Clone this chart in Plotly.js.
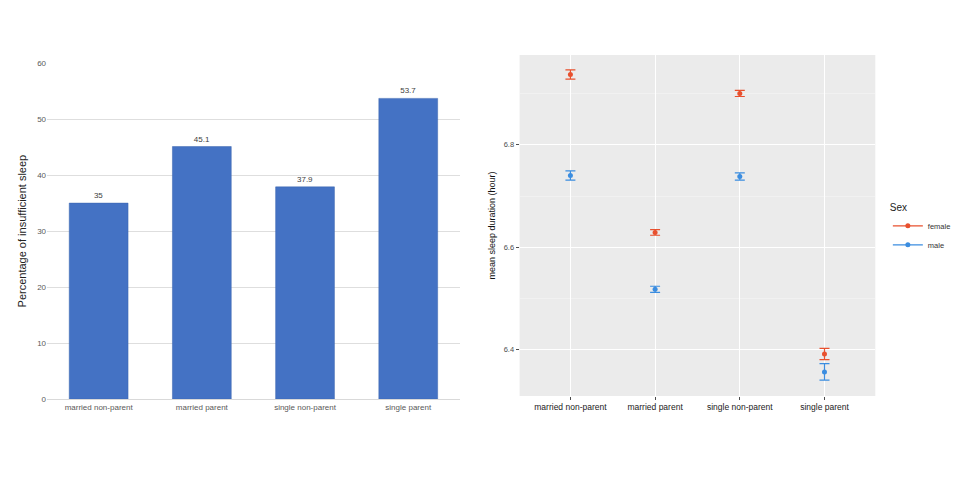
<!DOCTYPE html>
<html>
<head>
<meta charset="utf-8">
<script src="https://cdn.plot.ly/plotly-3.0.1.min.js"></script>
<style>
  html, body { margin: 0; padding: 0; background: #fff; }
  #chart { width: 964px; height: 478px; }
</style>
</head>
<body>
<div id="chart"></div>
<script>
// groups shared by both panels
var groups = ['married non-parent', 'married parent', 'single non-parent', 'single parent']

// left panel: % insufficient sleep
var insufficientPct = [35, 45.1, 37.9, 53.7]
var pctLabels = ['35', '45.1', '37.9', '53.7']

// right panel: mean sleep duration (hour) with error bars, by sex
var femaleMean = [6.937, 6.629, 6.900, 6.392]
var femaleErr  = [0.009, 0.0055, 0.006, 0.011]
var maleMean   = [6.740, 6.518, 6.738, 6.357]
var maleErr    = [0.009, 0.006, 0.007, 0.016]

var femaleColor = '#E8502E'
var maleColor = '#3B8DE0'
var font = 'Liberation Sans, Arial, sans-serif'

var traces = [
    {
        x: groups,
        y: insufficientPct,
        text: pctLabels,
        type: 'bar',
        textposition: 'outside',
        textfont: {family: font, size: 8, color: '#404040'},
        marker: {color: '#4472C4', line: {color: '#3a64ae', width: 0.5}},
        cliponaxis: false,
        hoverinfo: 'x+y',
        showlegend: false,
        xaxis: 'x', yaxis: 'y',
    },
    {
        x: groups,
        y: femaleMean,
        name: 'female',
        type: 'scatter',
        mode: 'markers',
        marker: {color: femaleColor, size: 5},
        error_y: {type: 'data', array: femaleErr, visible: true, color: femaleColor, thickness: 1.2, width: 5},
        showlegend: false,
        xaxis: 'x2', yaxis: 'y2',
    },
    {
        x: groups,
        y: maleMean,
        name: 'male',
        type: 'scatter',
        mode: 'markers',
        marker: {color: maleColor, size: 5},
        error_y: {type: 'data', array: maleErr, visible: true, color: maleColor, thickness: 1.2, width: 5},
        showlegend: false,
        xaxis: 'x2', yaxis: 'y2',
    },
    // legend keys (ggplot style point + line)
    {x: [null], y: [null], name: 'female', type: 'scatter', mode: 'lines+markers',
     marker: {color: femaleColor, size: 5}, line: {color: femaleColor, width: 1.2}, xaxis: 'x2', yaxis: 'y2'},
    {x: [null], y: [null], name: 'male', type: 'scatter', mode: 'lines+markers',
     marker: {color: maleColor, size: 5}, line: {color: maleColor, width: 1.2}, xaxis: 'x2', yaxis: 'y2'},
]

var layout = {
    width: 964,
    height: 478,
    margin: {l: 0, r: 0, t: 0, b: 0},
    paper_bgcolor: '#ffffff',
    font: {family: font, color: '#333'},
    bargap: 0.43,
    xaxis: {
        domain: [0.0488, 0.477],
        type: 'category',
        showgrid: false,
        showline: true,
        linecolor: '#d9d9d9',
        ticks: '',
        tickfont: {family: font, size: 8, color: '#595959'},
        fixedrange: true,
    },
    yaxis: {
        domain: [0.165, 0.868],
        range: [0, 60],
        dtick: 10,
        gridcolor: '#dedede',
        zeroline: false,
        ticks: '',
        tickfont: {family: font, size: 8, color: '#595959'},
        title: {text: 'Percentage of insufficient sleep', font: {family: font, size: 11, color: '#222'}, standoff: 8},
        fixedrange: true,
    },
    xaxis2: {
        domain: [0.539, 0.908],
        anchor: 'y2',
        type: 'category',
        range: [-0.6, 3.6],
        showgrid: true,
        gridcolor: '#ffffff',
        gridwidth: 1.2,
        ticks: 'outside',
        ticklen: 3,
        tickcolor: '#4d4d4d',
        tickfont: {family: font, size: 8.5, color: '#222'},
        fixedrange: true,
    },
    yaxis2: {
        domain: [0.1715, 0.885],
        anchor: 'x2',
        range: [6.310, 6.975],
        tickvals: [6.4, 6.6, 6.8],
        ticktext: ['6.4', '6.6', '6.8'],
        gridcolor: '#ffffff',
        gridwidth: 1.2,
        minor: {tickvals: [6.5, 6.7, 6.9], showgrid: true, gridcolor: '#f5f5f5', gridwidth: 0.6, ticks: ''},
        zeroline: false,
        ticks: 'outside',
        ticklen: 3,
        tickcolor: '#4d4d4d',
        tickfont: {family: font, size: 7.5, color: '#4d4d4d'},
        title: {text: 'mean sleep duration (hour)', font: {family: font, size: 9, color: '#111'}, standoff: 6},
        fixedrange: true,
    },
    plot_bgcolor: '#ffffff',
    shapes: [
        {type: 'rect', xref: 'x2 domain', yref: 'y2 domain', x0: 0, x1: 1, y0: 0, y1: 1,
         fillcolor: '#EBEBEB', line: {width: 0}, layer: 'below'},
    ],
    legend: {
        x: 0.921, y: 0.585, xanchor: 'left', yanchor: 'top',
        title: {text: 'Sex', font: {family: font, size: 10, color: '#222'}},
        font: {family: font, size: 7.5, color: '#333'},
        itemwidth: 30,
        tracegroupgap: 0,
        bgcolor: 'rgba(0,0,0,0)',
    },
}

Plotly.newPlot('chart', traces, layout, {displayModeBar: false, staticPlot: true})
</script>
</body>
</html>
